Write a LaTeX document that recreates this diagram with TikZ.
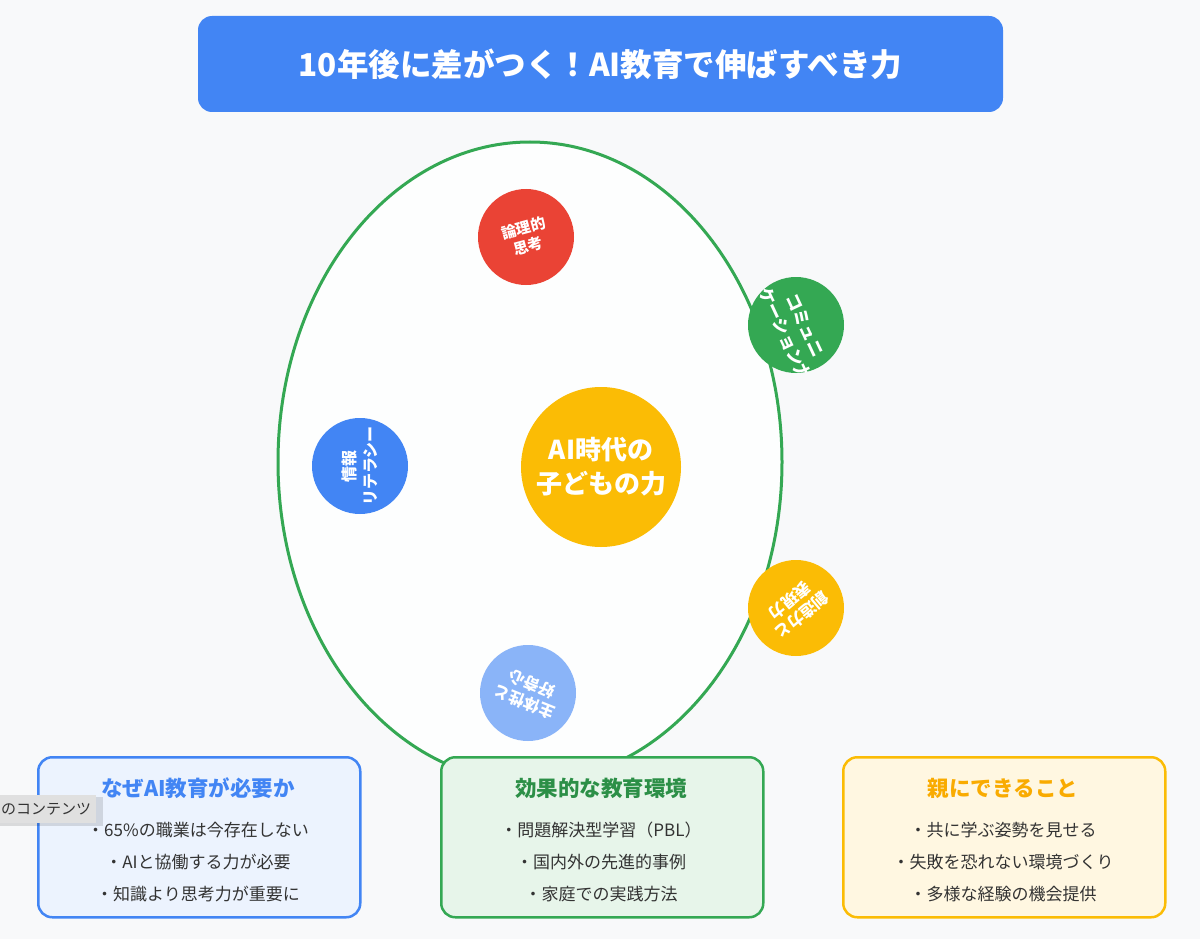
\documentclass[tikz,border=0pt]{standalone}
\usepackage{fontspec}
\usetikzlibrary{shapes.geometric}
\setmainfont{Noto Sans CJK JP}
\definecolor{bg}{HTML}{F8F9FA}
\definecolor{gblue}{HTML}{4285F4}
\definecolor{gred}{HTML}{EA4335}
\definecolor{ggreen}{HTML}{34A853}
\definecolor{gyellow}{HTML}{FBBC05}
\definecolor{glblue}{HTML}{8AB4F8}
\definecolor{ytitle}{HTML}{F9AB00}
\definecolor{txt}{HTML}{333333}
\begin{document}
\begin{tikzpicture}[x=1pt,y=-1pt,
  small/.style={circle,minimum size=96pt,inner sep=0pt},
  ctext/.style={text=white,font=\fontsize{15}{18}\selectfont\bfseries,align=center},
  infobox/.style={rounded corners=14pt,line width=2.5pt,minimum width=322pt,minimum height=160pt,anchor=north west},
  boxtitle/.style={font=\fontsize{21.5}{24}\selectfont\bfseries},
  item/.style={text=txt,font=\fontsize{17}{20}\selectfont}]
\fill[bg] (0,0) rectangle (1200,939);
\useasboundingbox (0,0) rectangle (1200,939);
\node[fill=gblue,rounded corners=14pt,minimum width=805pt,minimum height=96pt,text=white,font=\fontsize{31.5}{36}\selectfont\bfseries] (title) at (600.5,64) {10年後に差がつく！AI教育で伸ばすべき力};
\node[ellipse,draw=ggreen,line width=3pt,fill=white!75!bg,minimum width=504pt,minimum height=640pt,inner sep=0pt] (big) at (530,462) {};
\node[circle,fill=gyellow,minimum size=160pt,text=white,font=\fontsize{26}{34}\selectfont\bfseries,align=center] (core) at (601,467) {AI時代の\\子どもの力};
\node[small,fill=gred] (r) at (526,237) {};
\node[ctext,rotate=15] (rt) at (r) {論理的\\思考};
\node[small,fill=ggreen] (g) at (796,325) {};
\begin{scope}
\clip (796,325) circle (48);
\node[ctext,rotate=-65,font=\fontsize{17}{22}\selectfont\bfseries] (gt) at (795,330) {コミュニ\\ケーション力};
\end{scope}
\node[small,fill=gblue] (b) at (360,466) {};
\node[ctext,rotate=90,font=\fontsize{16}{21}\selectfont\bfseries] (bt) at (b) {情報\\リテラシー};
\node[small,fill=gyellow] (y) at (796,608) {};
\node[ctext,rotate=220,font=\fontsize{16}{19}\selectfont\bfseries] (yt) at (y) {創造力と\\表現力};
\node[small,fill=glblue] (lb) at (528,693) {};
\node[ctext,rotate=158,font=\fontsize{16}{19}\selectfont\bfseries] (lbt) at (lb) {主体性と\\好奇心};
% boxes
\node[infobox,draw=gblue,fill=gblue!10!white] (b1) at (37,756) {};
\node[infobox,draw=ggreen,fill=ggreen!12!white] (b2) at (440,756) {};
\node[infobox,draw=gyellow,fill=gyellow!12!white] (b3) at (842,756) {};
\node[boxtitle,text=gblue] (t1) at (198,788) {なぜAI教育が必要か};
\node[item] (i11) at (198,830) {・65\%の職業は今存在しない};
\node[item] (i12) at (198,862) {・AIと協働する力が必要};
\node[item] (i13) at (198,894) {・知識より思考力が重要に};
\node[boxtitle,text=ggreen!85!black] (t2) at (601,788) {効果的な教育環境};
\node[item] (i21) at (601,830) {・問題解決型学習（PBL）};
\node[item] (i22) at (601,862) {・国内外の先進的事例};
\node[item] (i23) at (601,894) {・家庭での実践方法};
\node[boxtitle,text=ytitle] (t3) at (1003,788) {親にできること};
\node[item] (i31) at (1003,830) {・共に学ぶ姿勢を見せる};
\node[item] (i32) at (1003,862) {・失敗を恐れない環境づくり};
\node[item] (i33) at (1003,894) {・多様な経験の機会提供};
% tooltip
\fill[black,opacity=0.12] (0,797) rectangle (103,826);
\node[fill=black!12,anchor=north west,minimum width=100pt,minimum height=28pt,inner sep=0pt,font=\fontsize{15}{17}\selectfont,text=txt] (tip) at (-4,795) {のコンテンツ};
\end{tikzpicture}
\end{document}
